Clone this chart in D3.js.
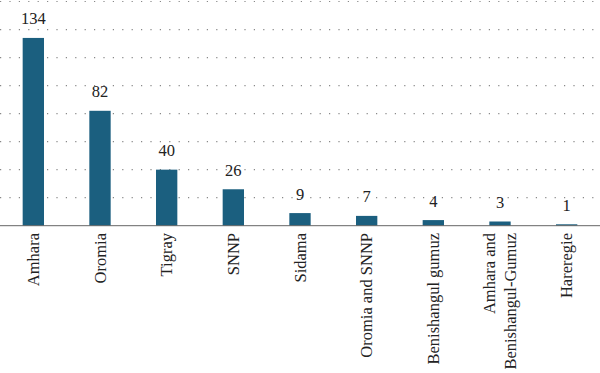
<!DOCTYPE html>
<html><head><meta charset="utf-8">
<script src="https://cdn.jsdelivr.net/npm/d3@7"></script>
<style>body{margin:0;background:#fff}svg{display:block}</style>
</head><body><svg id="c" width="600" height="373"></svg>
<script>
const categories = [["Amhara"],["Oromia"],["Tigray"],["SNNP"],["Sidama"],["Oromia and SNNP"],["Benishangul gumuz"],["Amhara and","Benishangul-Gumuz"],["Hareregie"]];
const values = [134,82,40,26,9,7,4,3,1];
const yTicks = [0,20,40,60,80,100,120,140,160];

(function(){
const svg = d3.select("#c");
const W=600, yTop=1.5, base=225.7;
const x = d3.scaleBand().domain(d3.range(categories.length)).range([0,W]).paddingInner(0.68).paddingOuter(0.34);
const y = d3.scaleLinear().domain([0,160]).range([base, yTop]);
const font = "Liberation Serif, DejaVu Serif, serif";

svg.append("g").selectAll("line").data(yTicks.slice(1)).join("line")
  .attr("x1",0).attr("x2",W).attr("y1",d=>y(d)).attr("y2",d=>y(d))
  .attr("stroke","#888").attr("stroke-width",1.2).attr("stroke-dasharray","1.2,8.2");

svg.append("g").selectAll("rect").data(values).join("rect")
  .attr("x",(d,i)=>x(i)).attr("width",x.bandwidth())
  .attr("y",d=>y(d)).attr("height",d=>base-y(d)).attr("fill","#1b5f7f");

svg.append("line").attr("x1",0).attr("x2",W).attr("y1",base).attr("y2",base).attr("stroke","#666").attr("stroke-width",1);

svg.append("g").selectAll("text").data(values).join("text")
  .attr("x",(d,i)=>x(i)+x.bandwidth()/2).attr("y",d=>y(d)-13.5)
  .attr("text-anchor","middle").style("font-family",font).style("font-size","16.5px").attr("fill","#222")
  .text(d=>d);

const lg = svg.append("g").selectAll("g").data(categories).join("g")
  .attr("transform",(d,i)=>`translate(${x(i)+x.bandwidth()/2},233) rotate(-90)`);
lg.each(function(lines){
  const g=d3.select(this);
  const n=lines.length, lh=21.3;
  lines.forEach((t,k)=>{
    g.append("text").attr("x",0).attr("y",(k-(n-1)/2)*lh).attr("dy","0.35em")
      .attr("text-anchor","end").style("font-family",font).style("font-size","16.5px").attr("fill","#222").text(t);
  });
});
})();
</script></body></html>
